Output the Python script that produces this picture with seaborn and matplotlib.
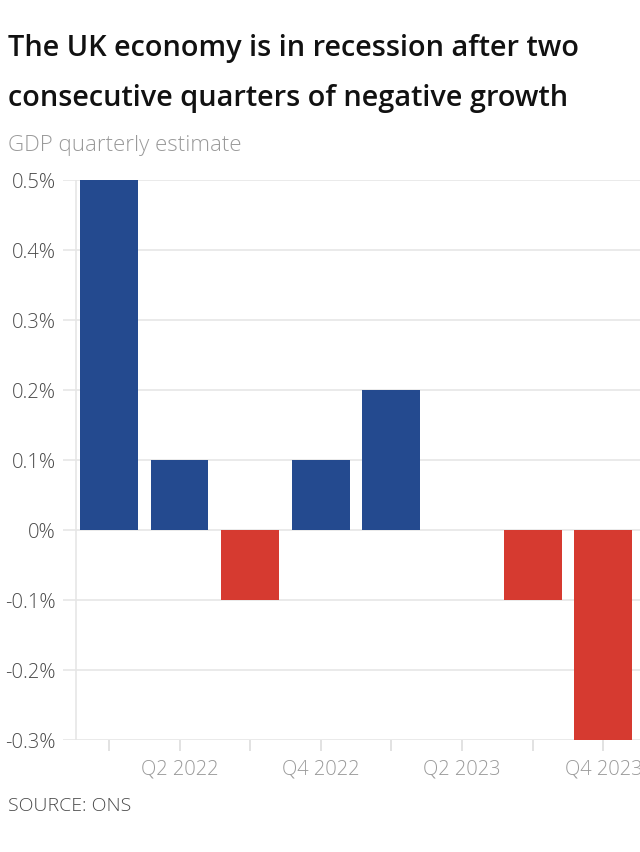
import matplotlib
matplotlib.use("Agg")
import matplotlib.pyplot as plt
import seaborn as sns
import pandas as pd

quarters = ["Q1 2022", "Q2 2022", "Q3 2022", "Q4 2022", "Q1 2023", "Q2 2023", "Q3 2023", "Q4 2023"]
growth = [0.5, 0.1, -0.1, 0.1, 0.2, 0.0, -0.1, -0.3]
tick_labels = ["", "Q2 2022", "", "Q4 2022", "", "Q2 2023", "", "Q4 2023"]
y_ticks = [0.5, 0.4, 0.3, 0.2, 0.1, 0.0, -0.1, -0.2, -0.3]
y_tick_labels = ["0.5%", "0.4%", "0.3%", "0.2%", "0.1%", "0%", "-0.1%", "-0.2%", "-0.3%"]

title = "The UK economy is in recession after two\nconsecutive quarters of negative growth"
subtitle = "GDP quarterly estimate"
source = "SOURCE: ONS"

BLUE = "#244a8f"
RED = "#d63a30"

sns.set_theme(style="white")
plt.rcParams["font.family"] = ["Open Sans", "DejaVu Sans"]

df = pd.DataFrame({"quarter": quarters, "growth": growth})
palette = {q: (BLUE if v >= 0 else RED) for q, v in zip(quarters, growth)}

W, H = 640, 853
fig = plt.figure(figsize=(W / 100, H / 100), dpi=100)
ax = fig.add_axes([63 / W, 1 - 741 / H, (640 - 63) / W, (741 - 181) / H])

sns.barplot(data=df, x="quarter", y="growth", hue="quarter", palette=palette,
            legend=False, width=0.82, saturation=1, linewidth=0, ax=ax, zorder=3)

ax.set_ylim(-0.3, 0.5)
ax.set_xlim(-0.65, 7.52)
ax.set_yticks(y_ticks)
ax.set_yticklabels(y_tick_labels)
ax.set_xticks(range(len(quarters)))
ax.set_xticklabels(tick_labels)
ax.set_xlabel("")
ax.set_ylabel("")

ax.grid(axis="y", color="#e6e6e6", linewidth=1.2, zorder=0)
ax.grid(axis="x", visible=False)
for s in ax.spines.values():
    s.set_visible(False)
ax.axvline(-0.47, color="#e6e6e6", linewidth=1.2, zorder=1)

ax.tick_params(axis="y", length=0, pad=5, labelsize=14.5, labelcolor="#4a4a4a")
ax.tick_params(axis="x", length=8, width=1.2, color="#dddddd", pad=5,
               labelsize=14.5, labelcolor="#9a9a9a", bottom=True, direction="out")
for lab in ax.get_yticklabels():
    lab.set_fontweight("light")
for lab in ax.get_xticklabels():
    lab.set_fontweight("light")

fig.text(8 / W, 1 - 73.5 / H, title, fontsize=20.8, fontweight="semibold", color="#111111",
         ha="left", va="center", linespacing=1.92)
fig.text(8 / W, 1 - 145 / H, subtitle, fontsize=16, fontweight="light", color="#9a9a9a",
         ha="left", va="center")
fig.text(8 / W, 1 - 806 / H, source, fontsize=14, fontweight="light", color="#4a4a4a",
         ha="left", va="center")

fig.savefig("out.png", dpi=100)
